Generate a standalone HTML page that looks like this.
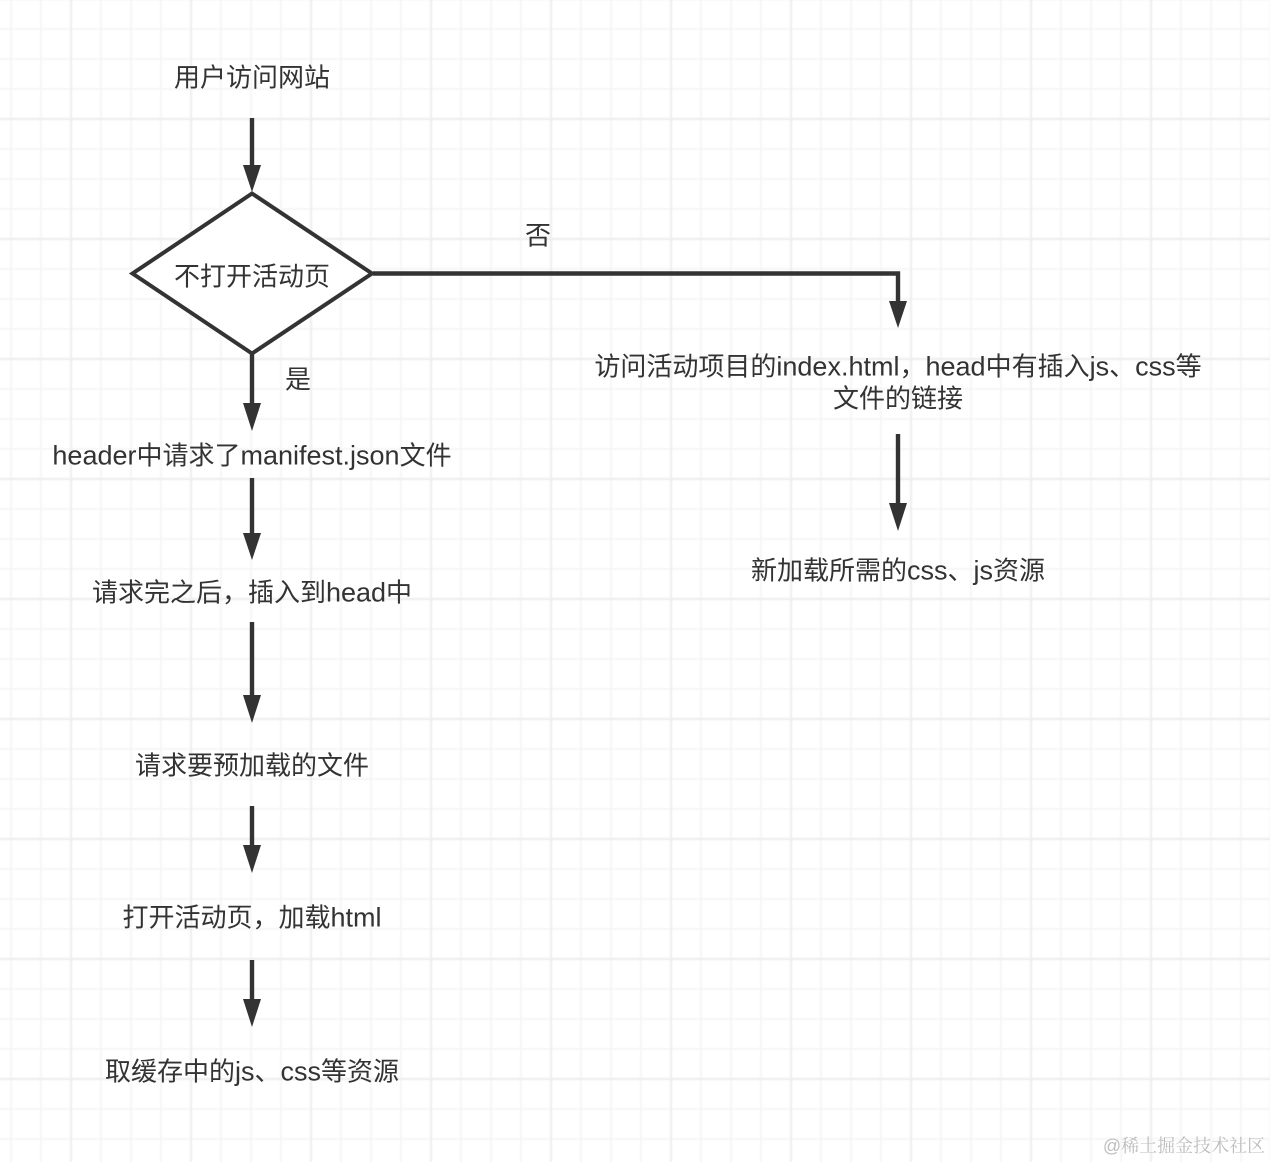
<!DOCTYPE html>
<html>
<head>
<meta charset="utf-8">
<style>
html,body{margin:0;padding:0;background:#fff;width:1270px;height:1162px;overflow:hidden}
svg{display:block}
text{font-family:"Liberation Sans","Noto Sans CJK SC",sans-serif;font-size:26px;fill:#333;text-anchor:middle;filter:blur(.25px)}
tspan{font-size:27px}
.grid{filter:blur(.6px)}
</style>
</head>
<body>
<svg width="1270" height="1162" viewBox="0 0 1270 1162" xmlns="http://www.w3.org/2000/svg">
<defs>
<pattern id="minor" width="30" height="30" patternUnits="userSpaceOnUse" x="-4" y="14">
<path d="M15 0V30M0 15H30" stroke="#f6f6f6" stroke-width="2" fill="none"/>
</pattern>
<pattern id="major" width="120" height="120" patternUnits="userSpaceOnUse" x="11" y="-1">
<path d="M60 0V120M0 120H120M0 0H120" stroke="#efefef" stroke-width="2.4" fill="none"/>
</pattern>
</defs>
<rect width="1270" height="1162" fill="#fff"/>
<g class="grid">
<rect x="-5" y="-5" width="1280" height="1172" fill="url(#minor)"/>
<rect x="-5" y="-5" width="1280" height="1172" fill="url(#major)"/>
</g>

<g fill="none" stroke="#333" stroke-width="4.4">
<path d="M252 118V170"/>
<path d="M252 354V408"/>
<path d="M252 478V538"/>
<path d="M252 622V700"/>
<path d="M252 806V850"/>
<path d="M252 960V1004"/>
<path d="M373 273.500H898V306"/>
<path d="M898 434V508"/>
<path d="M252 193.500L372 273.500L252 353.500L132.500 273.500Z" fill="#fff" stroke-width="4"/>
</g>
<g fill="#333">
<path d="M243 165H261L252 192Z"/>
<path d="M243 403H261L252 431Z"/>
<path d="M243 533H261L252 560Z"/>
<path d="M243 695H261L252 723Z"/>
<path d="M243 845H261L252 873Z"/>
<path d="M243 999H261L252 1027Z"/>
<path d="M889 301H907L898 328Z"/>
<path d="M889 503H907L898 531Z"/>
</g>

<text x="252" y="86.500">用户访问网站</text>
<text x="252" y="285.500">不打开活动页</text>
<text x="538" y="244.500">否</text>
<text x="298" y="388.500">是</text>
<text x="252" y="464.500"><tspan>header</tspan>中请求了<tspan>manifest.json</tspan>文件</text>
<text x="252" y="601.500">请求完之后，插入到<tspan>head</tspan>中</text>
<text x="252" y="774.500">请求要预加载的文件</text>
<text x="252" y="926.500">打开活动页，加载<tspan>html</tspan></text>
<text x="252" y="1080.500">取缓存中的<tspan>js</tspan>、<tspan>css</tspan>等资源</text>
<text x="898" y="375.500">访问活动项目的<tspan>index.html</tspan>，<tspan>head</tspan>中有插入<tspan>js</tspan>、<tspan>css</tspan>等</text>
<text x="898" y="407.500">文件的链接</text>
<text x="898" y="579.500">新加载所需的<tspan>css</tspan>、<tspan>js</tspan>资源</text>
<text x="1184" y="1152" style="font-size:18px;fill:#bdbdbd;font-family:'Liberation Sans','Noto Serif CJK SC',serif">@稀土掘金技术社区</text>
</svg>
</body>
</html>
